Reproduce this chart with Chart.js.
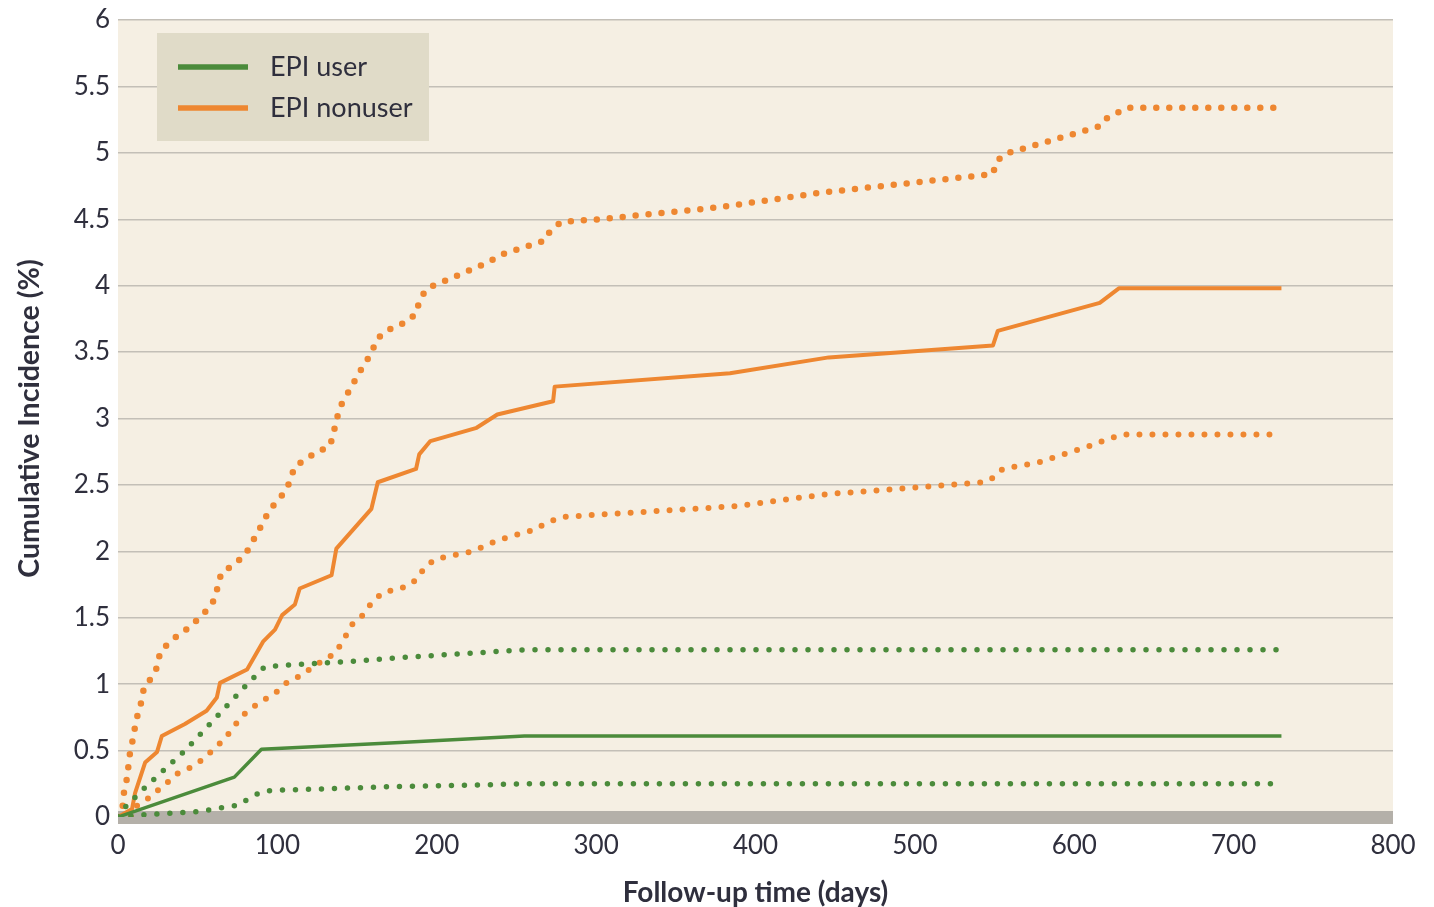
<!DOCTYPE html>
<html>
<head>
<meta charset="utf-8">
<title>Cumulative incidence by EPI use</title>
<script src="https://cdn.jsdelivr.net/npm/chart.js@4/dist/chart.umd.min.js"></script>
<style>
  html, body { margin: 0; padding: 0; background: #ffffff; }
  #wrap { width: 1434px; height: 907px; }
</style>
</head>
<body>
<div id="wrap"><canvas id="chart" width="1434" height="907"></canvas></div>
<script>
// Axis tick labels
const xTickLabels = ['0', '100', '200', '300', '400', '500', '600', '700', '800'];
const yTickLabels = ['0', '0.5', '1', '1.5', '2', '2.5', '3', '3.5', '4', '4.5', '5', '5.5', '6'];

// EPI user: estimate with lower / upper confidence bounds
const userDays   = [0, 73, 90, 177, 255, 730];
const userValues = [0, 0.30, 0.51, 0.56, 0.61, 0.61];

const userUpperDays   = [0, 5, 15, 42, 81, 92, 101.5, 150, 177, 257, 730];
const userUpperValues = [0, 0.08, 0.20, 0.50, 1.00, 1.13, 1.14, 1.175, 1.20, 1.26, 1.26];

const userLowerDays   = [0, 20, 50, 68, 76, 82, 90, 97, 177, 260, 730];
const userLowerValues = [0, 0.02, 0.04, 0.075, 0.09, 0.14, 0.19, 0.20, 0.23, 0.25, 0.25];

// EPI nonuser: estimate with lower / upper confidence bounds
const nonuserDays = [0, 8.8, 10.7, 17, 24.5, 27.5, 42, 55.6, 62, 64, 81, 91, 98.5, 103, 111, 114,
  134, 137, 159, 163, 187, 189, 196, 225, 238, 273, 274, 384, 446, 549, 552, 616, 628, 730];
const nonuserValues = [0, 0.06, 0.18, 0.41, 0.49, 0.61, 0.70, 0.80, 0.90, 1.01, 1.11, 1.32, 1.41, 1.52, 1.60, 1.72,
  1.82, 2.02, 2.32, 2.52, 2.62, 2.73, 2.83, 2.93, 3.03, 3.13, 3.24, 3.34, 3.46, 3.55, 3.66, 3.87, 3.98, 3.98];

const nonuserUpperDays = [0, 2.5, 3.8, 5.6, 7.5, 9.4, 10.7, 12.5, 15, 16.3, 21.3, 25, 26.3, 32.6, 39, 45, 51,
  57.7, 61.4, 62.7, 65, 71.5, 79.6, 88, 95, 101.5, 106, 111, 125, 133, 135, 137, 139, 154, 159, 162, 167,
  175, 182, 187.5, 189, 194, 202, 217.5, 233, 239.5, 268, 271, 278, 302, 377, 441, 549, 551, 556, 616,
  619, 633, 730];
const nonuserUpperValues = [0, 0.03, 0.19, 0.29, 0.48, 0.59, 0.68, 0.78, 0.88, 0.98, 1.05, 1.14, 1.24, 1.32, 1.38, 1.43, 1.50,
  1.58, 1.66, 1.75, 1.84, 1.89, 1.97, 2.15, 2.31, 2.40, 2.47, 2.64, 2.75, 2.79, 2.88, 2.98, 3.08, 3.40, 3.49, 3.59, 3.65,
  3.70, 3.73, 3.80, 3.89, 3.98, 4.02, 4.10, 4.18, 4.23, 4.34, 4.41, 4.48, 4.50, 4.59, 4.70, 4.84, 4.93, 4.99, 5.20,
  5.25, 5.34, 5.34];

const nonuserLowerDays = [0, 8, 10.7, 19, 25, 31, 37.6, 45, 52.7, 61, 67, 71.5, 76.5, 81.5, 90, 98.4, 106.6,
  114, 123.5, 131.7, 136, 140.4, 147, 153.6, 159, 166, 173.7, 182, 187.5, 192.5, 199, 214, 222.6, 237.6,
  254, 261, 269.6, 280, 388, 444.5, 543.6, 550, 555, 578, 609, 622, 631, 730];
const nonuserLowerValues = [0, 0.0, 0.075, 0.14, 0.20, 0.26, 0.33, 0.37, 0.43, 0.52, 0.59, 0.66, 0.74, 0.80, 0.87, 0.93, 1.02,
  1.06, 1.14, 1.20, 1.23, 1.31, 1.45, 1.52, 1.61, 1.69, 1.71, 1.74, 1.79, 1.88, 1.94, 1.98, 2.00, 2.08,
  2.14, 2.16, 2.22, 2.26, 2.34, 2.43, 2.52, 2.56, 2.62, 2.67, 2.79, 2.85, 2.88, 2.88];

const GREEN = '#4b8b3b';
const ORANGE = '#ee8731';
const TEXT = '#2f2f3d';
const FONT = 'Lato, "Noto Sans", sans-serif';

const toPoints = (days, values) => days.map((d, i) => ({ x: d, y: values[i] }));

function solid(label, color, days, values, width) {
  return {
    label, showInLegend: true,
    data: toPoints(days, values),
    borderColor: color, borderWidth: width,
    pointRadius: 0, tension: 0, borderJoinStyle: 'round'
  };
}
function dotted(label, color, days, values, size) {
  return {
    label, showInLegend: false,
    data: toPoints(days, values),
    borderColor: color, borderWidth: size,
    borderDash: [0, 13], borderCapStyle: 'round',
    pointRadius: 0, tension: 0
  };
}

// Beige plot panel and the grey band along the zero line
const plotPanel = {
  id: 'plotPanel',
  beforeDraw(chart) {
    const { ctx, chartArea: a } = chart;
    ctx.save();
    ctx.fillStyle = '#f5efe3';
    ctx.fillRect(a.left, a.top, a.right - a.left, a.bottom - a.top);
    ctx.restore();
  },
  beforeDatasetsDraw(chart) {
    const { ctx, chartArea: a, scales } = chart;
    const y0 = scales.y.getPixelForValue(0);
    ctx.save();
    ctx.fillStyle = '#b4b0a9';
    ctx.fillRect(a.left, y0 - 6, a.right - a.left, 13);
    ctx.restore();
  }
};

// Boxed legend inside the plot, top-left
const boxLegend = {
  id: 'boxLegend',
  afterDatasetsDraw(chart) {
    const { ctx, chartArea: a } = chart;
    const items = chart.data.datasets.filter(d => d.showInLegend);
    const left = a.left + 39, top = a.top + 13;
    ctx.save();
    ctx.fillStyle = '#e0dbc8';
    ctx.fillRect(left, top, 272, 108);
    ctx.font = '27px ' + FONT;
    ctx.textBaseline = 'middle';
    ctx.textAlign = 'left';
    items.forEach((d, i) => {
      const y = top + 34 + i * 41;
      ctx.strokeStyle = d.borderColor;
      ctx.lineWidth = 5.5;
      ctx.lineCap = 'butt';
      ctx.beginPath();
      ctx.moveTo(left + 21, y);
      ctx.lineTo(left + 91, y);
      ctx.stroke();
      ctx.fillStyle = TEXT;
      ctx.fillText(d.label, left + 113, y);
    });
    ctx.restore();
  }
};

function draw() {
  new Chart(document.getElementById('chart'), {
    type: 'line',
    data: {
      datasets: [
        solid('EPI user', GREEN, userDays, userValues, 3.5),
        dotted('EPI user upper', GREEN, userUpperDays, userUpperValues, 5.5),
        dotted('EPI user lower', GREEN, userLowerDays, userLowerValues, 5.5),
        solid('EPI nonuser', ORANGE, nonuserDays, nonuserValues, 4),
        dotted('EPI nonuser upper', ORANGE, nonuserUpperDays, nonuserUpperValues, 6.5),
        dotted('EPI nonuser lower', ORANGE, nonuserLowerDays, nonuserLowerValues, 6)
      ]
    },
    options: {
      responsive: false,
      animation: false,
      layout: { padding: { top: 20, right: 41, left: 0, bottom: 0 } },
      plugins: { legend: { display: false }, tooltip: { enabled: false } },
      scales: {
        x: {
          type: 'linear', min: 0, max: 800,
          afterFit: s => { s.height = 90; },
          grid: { display: false, drawTicks: false },
          border: { display: false },
          ticks: {
            stepSize: 100, padding: 13, maxRotation: 0, color: TEXT,
            font: { family: FONT, size: 26 },
            callback: (v, i) => xTickLabels[i]
          },
          title: {
            display: true, text: 'Follow-up time (days)', color: TEXT,
            font: { family: FONT, size: 28, weight: 'bold', lineHeight: 1 },
            padding: { top: 0, bottom: 0 }
          }
        },
        y: {
          type: 'linear', min: 0, max: 6,
          afterFit: s => { s.width = 118; s.paddingTop = 0; s.paddingBottom = 0; },
          grid: {
            drawTicks: false, lineWidth: 1.5,
            color: c => (c.tick && c.tick.value === 0) ? 'rgba(0,0,0,0)' : '#c3bfb7'
          },
          border: { display: false },
          ticks: {
            stepSize: 0.5, padding: 8, color: TEXT,
            font: { family: FONT, size: 26 },
            callback: (v, i) => yTickLabels[i]
          },
          title: {
            display: true, text: 'Cumulative Incidence (%)', color: TEXT,
            font: { family: FONT, size: 28.5, weight: 'bold', lineHeight: 1 },
            padding: { top: 16, bottom: 0 }
          }
        }
      }
    },
    plugins: [plotPanel, boxLegend]
  });
}

if (document.fonts && document.fonts.load) {
  Promise.all([
    document.fonts.load('26px Lato'),
    document.fonts.load('bold 28px Lato')
  ]).then(draw, draw);
} else {
  draw();
}
</script>
</body>
</html>
